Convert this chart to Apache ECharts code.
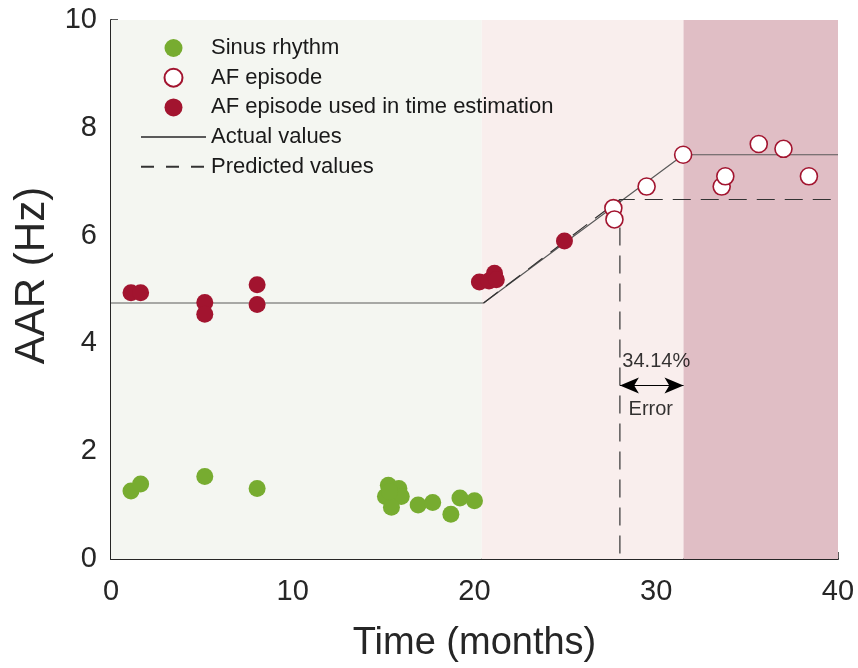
<!DOCTYPE html>
<html>
<head>
<meta charset="utf-8">
<script src="https://cdn.jsdelivr.net/npm/echarts@6/dist/echarts.min.js"></script>
<style>
  html, body { margin: 0; padding: 0; background: #fff; }
  #main { width: 858px; height: 668px; }
</style>
</head>
<body>
<div id="main"></div>
<script>
// data
const sinusRhythm = [
  [1.1, 1.26], [1.63, 1.39], [5.16, 1.53], [8.04, 1.31],
  [15.26, 1.37], [15.84, 1.31], [15.1, 1.16], [15.97, 1.16], [15.43, 0.96],
  [15.33, 1.25], [16.9, 1.0], [17.7, 1.05], [18.7, 0.83], [19.2, 1.13], [20.0, 1.08]
]
const afEpisode = [
  [27.64, 6.51], [27.7, 6.3], [29.47, 6.91], [31.48, 7.5], [33.6, 6.91],
  [33.8, 7.1], [35.64, 7.7], [37.0, 7.61], [38.4, 7.1]
]
const afUsed = [
  [1.1, 4.94], [1.63, 4.94], [5.16, 4.76], [5.16, 4.54], [8.04, 5.09], [8.04, 4.72],
  [20.27, 5.14], [20.8, 5.16], [21.1, 5.3], [21.2, 5.18], [24.95, 5.9]
]
const actualValues = [[0, 4.75], [20.5, 4.75], [31.5, 7.5], [40, 7.5]]
const predictedValues = [[20.5, 4.75], [28, 6.67], [40, 6.67]]
const predictedDrop = [[28, 6.67], [28, 0]]
const phases = [[0, 20.4], [20.4, 31.5], [31.5, 40]]
const errorArrow = [[28, 3.22], [31.5, 3.22]]
const notes = [[30.0, 3.66, '34.14%'], [29.7, 2.77, 'Error']]

const font = 'Arial, "Liberation Sans", Helvetica, sans-serif'
const green = '#77ac30'
const red = '#a2142f'
const ink = '#262626'
const phaseColors = ['#f4f6f1', '#f9eeed', '#e0bec5']

const chart = echarts.init(document.getElementById('main'), null, { renderer: 'canvas' })

// line entries in the legend: hide the marker, keep the stroke
const noMarker = { opacity: 0 }

chart.setOption({
  animation: false,
  textStyle: { fontFamily: font },
  grid: { left: 111, right: 20, top: 20, bottom: 107 },
  legend: {
    orient: 'vertical',
    left: 140,
    top: 37,
    padding: 0,
    itemWidth: 65,
    itemHeight: 18,
    itemGap: 7.7,
    selectedMode: false,
    textStyle: { fontSize: 22, color: '#1a1a1a', fontFamily: font },
    data: [
      'Sinus rhythm',
      'AF episode',
      'AF episode used in time estimation',
      { name: 'Actual values', itemStyle: noMarker },
      { name: 'Predicted values', itemStyle: noMarker, lineStyle: { type: [13, 12] } }
    ]
  },
  xAxis: {
    type: 'value', min: 0, max: 40, interval: 10,
    name: 'Time (months)', nameLocation: 'middle', nameGap: 66,
    nameTextStyle: { fontSize: 38, color: ink },
    axisLine: { lineStyle: { color: ink, width: 2 } },
    axisTick: { inside: true, length: 7, lineStyle: { color: ink, width: 1.5 } },
    axisLabel: { fontSize: 29, color: ink, margin: 18 },
    splitLine: { show: false }
  },
  yAxis: {
    type: 'value', min: 0, max: 10, interval: 2,
    name: 'AAR (Hz)', nameLocation: 'middle', nameGap: 57,
    nameTextStyle: { fontSize: 42, color: ink, padding: [0, 0, 0, 28] },
    axisLine: { show: true, lineStyle: { color: ink, width: 2 } },
    axisTick: { show: true, inside: true, length: 7, lineStyle: { color: ink, width: 1.5 } },
    axisLabel: { fontSize: 29, color: ink, margin: 14 },
    splitLine: { show: false }
  },
  series: [
    {
      name: 'phases',
      type: 'line',
      data: [],
      silent: true,
      markArea: {
        silent: true,
        data: phases.map((p, i) => [
          { xAxis: p[0], yAxis: 0, itemStyle: { color: phaseColors[i] } },
          { xAxis: p[1], yAxis: 10 }
        ])
      },
      z: 0
    },
    {
      name: 'Actual values',
      type: 'line',
      data: actualValues,
      symbol: 'none',
      lineStyle: { color: '#5a5a5a', width: 1.2 },
      itemStyle: { color: '#5a5a5a' },
      z: 2
    },
    {
      name: 'Predicted values',
      type: 'line',
      data: predictedValues,
      symbol: 'none',
      lineStyle: { color: '#333', width: 1.2, type: [18, 10] },
      itemStyle: { color: '#333' },
      z: 2
    },
    {
      name: 'drop',
      type: 'line',
      data: predictedDrop,
      symbol: 'none',
      lineStyle: { color: '#333', width: 1.2, type: [18, 10] },
      z: 2
    },
    {
      name: 'Sinus rhythm',
      type: 'scatter',
      data: sinusRhythm,
      symbolSize: 17,
      itemStyle: { color: green, opacity: 1 },
      z: 5
    },
    {
      name: 'AF episode',
      type: 'scatter',
      data: afEpisode,
      symbolSize: 17,
      itemStyle: { color: '#fff', borderColor: red, borderWidth: 1.6, opacity: 1 },
      z: 5
    },
    {
      name: 'AF episode used in time estimation',
      type: 'scatter',
      data: afUsed,
      symbolSize: 17,
      itemStyle: { color: red, opacity: 1 },
      z: 5
    },
    {
      name: 'error',
      type: 'scatter',
      data: notes,
      symbolSize: 0,
      silent: true,
      label: {
        show: true,
        position: 'inside',
        formatter: p => p.data[2],
        fontSize: 20,
        color: '#000',
        fontFamily: font
      },
      markLine: {
        silent: true,
        symbol: ['arrow', 'arrow'],
        symbolSize: [12, 19],
        label: { show: false },
        lineStyle: { color: '#000', width: 1.2, type: 'solid' },
        data: [[{ coord: errorArrow[0] }, { coord: errorArrow[1] }]]
      },
      z: 6
    }
  ]
})
</script>
</body>
</html>
